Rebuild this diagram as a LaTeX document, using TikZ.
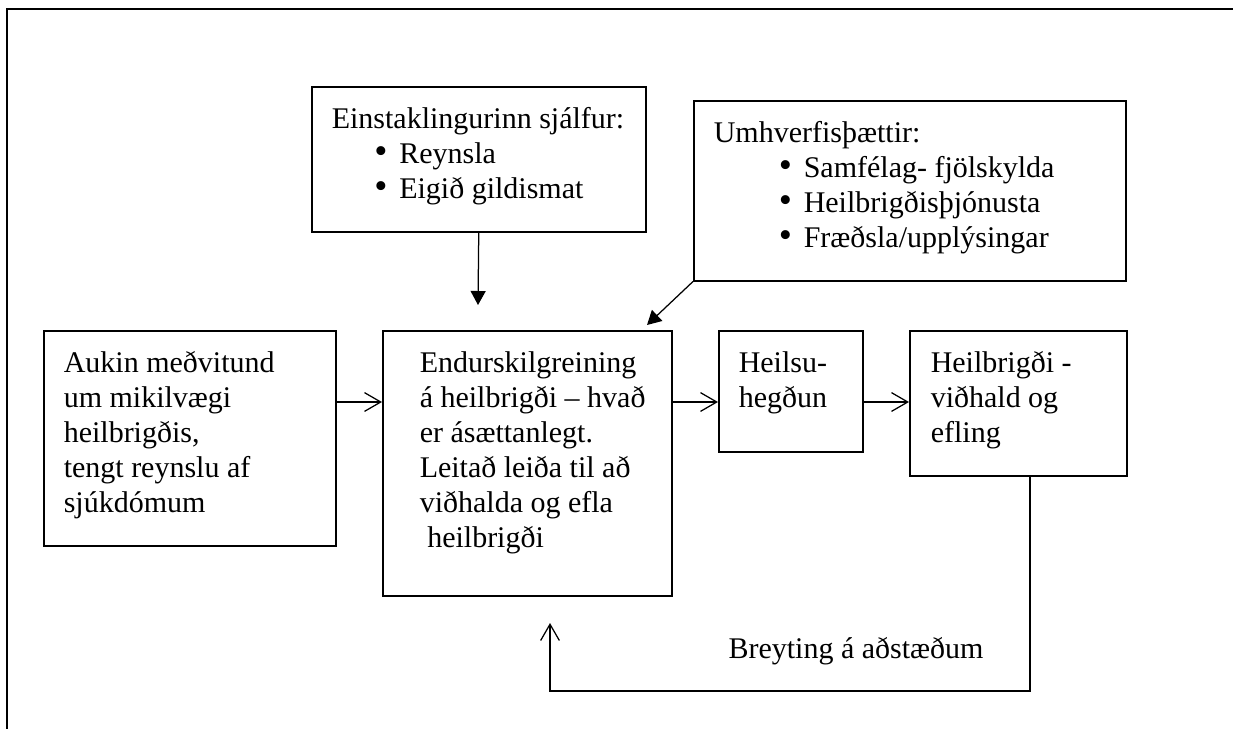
\documentclass[tikz,border=0pt]{standalone}
\usepackage{fontspec}
\setmainfont{Liberation Serif}
\usetikzlibrary{arrows.meta}
\newcommand{\boxtext}[4]{\parbox[b][#2][t]{#1}{\raggedright\leftskip=#3\relax
  \vspace*{7pt}\strut #4\par}}
\newcommand{\bitem}[3]{\hspace*{#1}\makebox[#2][l]{\smash{\scalebox{1.25}{\textbullet}}}#3}
\tikzset{
  stage/.style={draw,line width=0.6pt,inner sep=0pt,anchor=north west},
  flow/.style={line width=0.5pt,-{Straight Barb[length=6.5pt,width=7.5pt]}},
  feed/.style={line width=0.5pt,-{Triangle[length=5.6pt,width=6pt]}}
}
\begin{document}
\begin{tikzpicture}[x=0.4pt,y=-0.4pt,font=\fontsize{12}{14}\selectfont]
  \useasboundingbox (0,0) rectangle (1233,728);
  \draw[line width=0.9pt] (7,740) -- (7,9) -- (1245,9);

  %upper boxes
  \node[stage] (self) at (311,86) {\boxtext{133.6pt}{58pt}{8pt}{%
    Einstaklingurinn sjálfur:\\
    \bitem{17pt}{10pt}{Reynsla}\\
    \bitem{17pt}{10pt}{Eigið gildismat}}};
  \node[stage] (env) at (693,100) {\boxtext{172.8pt}{72pt}{8pt}{%
    Umhverfisþættir:\\
    \bitem{26pt}{10pt}{Samfélag- fjölskylda}\\
    \bitem{26pt}{10pt}{Heilbrigðisþjónusta}\\
    \bitem{26pt}{10pt}{Fræðsla/upplýsingar}}};

  %middle row
  \node[stage] (aware) at (43,330) {\boxtext{116.8pt}{86pt}{8pt}{%
    Aukin meðvitund\\ um mikilvægi\\ heilbrigðis,\\ tengt reynslu af\\ sjúkdómum}};
  \node[stage] (redef) at (382,330) {\boxtext{115.6pt}{106pt}{14.8pt}{%
    Endurskilgreining\\ á heilbrigði – hvað\\ er ásættanlegt.\\
    Leitað leiða til að\\ viðhalda og efla\\ \hspace*{3pt}heilbrigði}};
  \node[stage] (behav) at (718,330) {\boxtext{57.6pt}{48.4pt}{8pt}{%
    Heilsu-\\ hegðun}};
  \node[stage] (health) at (909,330) {\boxtext{86.8pt}{58pt}{8.4pt}{%
    Heilbrigði -\\ viðhald og\\ efling}};

  \coordinate (row) at (0,402);
  \coordinate (selftip) at (478,305);
  \coordinate (envtip) at (647,325);
  \coordinate (loop) at (1030,691);
  \coordinate (looptip) at (550,623);

  \draw[feed] (self.south) -- (selftip);
  \draw[feed] (env.south west) -- (envtip);
  \draw[flow] (aware.east |- row) -- (redef.west |- row);
  \draw[flow] (redef.east |- row) -- (behav.west |- row);
  \draw[flow] (behav.east |- row) -- (health.west |- row);

  %feedback loop
  \draw[flow] (health.south -| loop) -- (loop) -| (looptip);
  \node[anchor=base west,inner sep=0pt] (change) at (728,658) {Breyting á aðstæðum};
\end{tikzpicture}
\end{document}
